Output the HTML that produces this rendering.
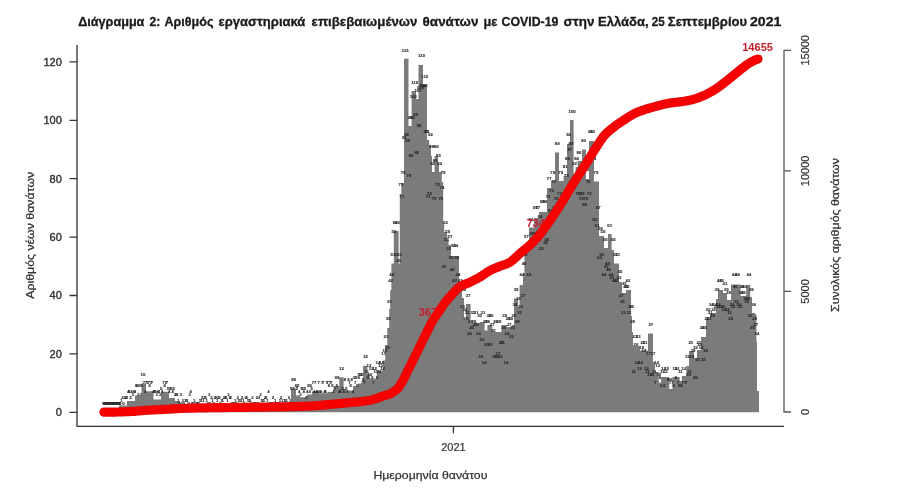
<!DOCTYPE html>
<html><head><meta charset="utf-8"><title>Διάγραμμα 2</title>
<style>
html,body{margin:0;padding:0;background:#fff;width:900px;height:500px;overflow:hidden}
svg{display:block;will-change:transform}
text{font-family:"Liberation Sans", "DejaVu Sans", sans-serif}
.ax text{stroke:#333;stroke-width:0.4px}
.ax2 text{stroke:#333;stroke-width:0.2px}
.ax3 text{stroke:#333;stroke-width:0.25px}
.tt text{stroke:#1a1a1a;stroke-width:0.3px}
</style></head><body>
<svg width="900" height="500" viewBox="0 0 900 500">
<rect width="900" height="500" fill="#ffffff"/>
<g class="tt" font-size="13" font-weight="bold" fill="#1a1a1a"><text x="78.19999999999999" y="26.3" textLength="66.2" lengthAdjust="spacingAndGlyphs">Διάγραμμα</text><text x="149.6" y="26.3" textLength="10.8" lengthAdjust="spacingAndGlyphs">2:</text><text x="164.6" y="26.3" textLength="48.8" lengthAdjust="spacingAndGlyphs">Αριθμός</text><text x="218.6" y="26.3" textLength="86.8" lengthAdjust="spacingAndGlyphs">εργαστηριακά</text><text x="311.6" y="26.3" textLength="105.8" lengthAdjust="spacingAndGlyphs">επιβεβαιωμένων</text><text x="422.6" y="26.3" textLength="55.8" lengthAdjust="spacingAndGlyphs">θανάτων</text><text x="483.6" y="26.3" textLength="13.8" lengthAdjust="spacingAndGlyphs">με</text><text x="501.6" y="26.3" textLength="56.8" lengthAdjust="spacingAndGlyphs">COVID-19</text><text x="563.6" y="26.3" textLength="30.8" lengthAdjust="spacingAndGlyphs">στην</text><text x="598.0" y="26.3" textLength="50.6" lengthAdjust="spacingAndGlyphs">Ελλάδα,</text><text x="651.8000000000001" y="26.3" textLength="13.0" lengthAdjust="spacingAndGlyphs">25</text><text x="667.8000000000001" y="26.3" textLength="79.3" lengthAdjust="spacingAndGlyphs">Σεπτεμβρίου</text><text x="750.0" y="26.3" textLength="31.5" lengthAdjust="spacingAndGlyphs">2021</text></g>
<!-- bars -->
<path d="M119,412.3L119,405.5L127,405.5L127,401L135,401L135,395.5L141.5,395.5L141.5,383.5L146,383.5L146,391.3L153.5,391.3L153.5,399.5L161,399.5L161,391.8L169,391.8L169,398L175,398L175,401L180,401L180,407.5L230,407.5L230,407.5L267,407.5L267,404L272,404L272,407L291,407L291,388.6L296,388.6L296,395.5L300,395.5L300,397.2L307,397.2L307,394.6L312,394.6L312,391.2L319,391.2L319,393.3L327.4,393.3L327.4,392L334,392L334,386L339.3,386L339.3,377.3L343.6,377.3L343.6,388.7L346,388.7L346,390.4L353,390.4L353,386L358,386L358,383.6L363.1,383.6L363.1,365.7L367.4,365.7L367.4,374L370,374L370,378.5L376.7,378.5L376.7,370.8L382.7,370.8L382.7,360.6L385.2,360.6L385.2,345L387.3,345L387.3,328L389.2,328L389.2,309L390.2,309L390.2,290L391.4,290L391.4,263.5L393.8,263.5L393.8,231L398.6,231L398.6,263.5L399.8,263.5L399.8,194L401.3,194L401.3,183L404,183L404,58.8L408.5,58.8L408.5,126L411.6,126L411.6,91L416,91L416,99L418.5,99L418.5,65L423,65L423,85L427,85L427,140L429.2,140L429.2,145L431,145L431,156L432,156L432,172L434.6,172L434.6,156L438,156L438,164L439,164L439,172L441.8,172L441.8,182L443.2,182L443.2,224L444.2,224L444.2,232L447,232L447,240L448.6,240L448.6,245L451,245L451,256L459,256L459,290L462,290L462,298L464,298L464,320L466,320L466,304L470.6,304L470.6,323L477.6,323L477.6,323.5L479.7,323.5L479.7,322L484.6,322L484.6,330.6L487.4,330.6L487.4,325L492.3,325L492.3,332L501.4,332L501.4,325L507,325L507,327L512,327L512,325L514,325L514,298.4L518.2,298.4L518.2,306.8L519.6,306.8L519.6,285L523,285L523,273L524.4,273L524.4,246L529,246L529,227.6L534,227.6L534,218L539,218L539,212L547,212L547,188L551,188L551,181L555,181L555,152.4L559,152.4L559,181L563.6,181L563.6,176L567,176L567,144L570,144L570,120L573.6,120L573.6,174L575.6,174L575.6,167L577.6,167L577.6,161L582,161L582,149.4L586,149.4L586,179L589,179L589,141L594,141L594,181.5L599,181.5L599,236L604,236L604,248L608,248L608,234L611.6,234L611.6,250L614,250L614,263.5L619,263.5L619,282L622,282L622,293L626,293L626,290L631,290L631,316L632,316L632,332L633,332L633,346L640,346L640,350.5L648,350.5L648,333.6L653,333.6L653,362L655,362L655,372L658.8,372L658.8,382.5L661,382.5L661,377L669.2,377L669.2,389L672.5,389L672.5,377L679.7,377L679.7,381L681.9,381L681.9,376L686.3,376L686.3,366L689,366L689,351L694,351L694,358L697,358L697,350L701,350L701,337L706,337L706,319L710,319L710,313L716,313L716,299L718,299L718,290L723,290L723,293L727,293L727,300L731,300L731,284.5L740.6,284.5L740.6,296L746.2,296L746.2,285L750.2,285L750.2,297L752,297L752,313L755,313L755,314L756.4,314L756.4,342L757,342L757,391L759,391L759,412.3Z" fill="#7b7b7b"/>
<rect x="102.3" y="402" width="18.4" height="2.8" fill="#585858"/>
<g font-size="4.3" font-weight="bold" fill="#2a2a2a" stroke="#2a2a2a" stroke-width="0.12" text-anchor="middle"><text x="104.1" y="404.8">0</text><text x="105.2" y="404.8">0</text><text x="106.4" y="404.8">0</text><text x="107.5" y="404.8">0</text><text x="108.7" y="404.8">0</text><text x="109.8" y="404.8">0</text><text x="110.9" y="404.8">0</text><text x="112.1" y="404.8">0</text><text x="113.2" y="404.8">0</text><text x="114.4" y="404.8">0</text><text x="115.5" y="404.8">0</text><text x="116.7" y="404.8">0</text><text x="117.8" y="404.8">0</text><text x="118.9" y="404.8">0</text><text x="120.1" y="404.8">0</text><text x="121.2" y="401.9">1</text><text x="122.4" y="399.0">2</text><text x="123.5" y="404.8">0</text><text x="124.6" y="399.0">2</text><text x="125.8" y="399.0">2</text><text x="126.9" y="399.0">2</text><text x="128.1" y="393.1">4</text><text x="129.2" y="393.1">4</text><text x="130.4" y="399.0">2</text><text x="131.5" y="393.1">4</text><text x="132.6" y="396.0">3</text><text x="133.8" y="393.1">4</text><text x="134.9" y="393.1">4</text><text x="136.1" y="387.3">6</text><text x="137.2" y="387.3">6</text><text x="138.3" y="396.0">3</text><text x="139.5" y="387.3">6</text><text x="140.6" y="396.0">3</text><text x="141.8" y="387.3">6</text><text x="142.9" y="375.6">10</text><text x="144.0" y="384.4">7</text><text x="145.2" y="393.1">4</text><text x="146.3" y="384.4">7</text><text x="147.5" y="384.4">7</text><text x="148.6" y="384.4">7</text><text x="149.8" y="387.3">6</text><text x="150.9" y="384.4">7</text><text x="152.0" y="384.4">7</text><text x="153.2" y="393.1">4</text><text x="154.3" y="393.1">4</text><text x="155.5" y="393.1">4</text><text x="156.6" y="396.0">3</text><text x="157.7" y="393.1">4</text><text x="158.9" y="393.1">4</text><text x="160.0" y="396.0">3</text><text x="161.2" y="390.2">5</text><text x="162.3" y="393.1">4</text><text x="163.5" y="384.4">7</text><text x="164.6" y="387.3">6</text><text x="165.7" y="384.4">7</text><text x="166.9" y="384.4">7</text><text x="168.0" y="390.2">5</text><text x="169.2" y="393.1">4</text><text x="170.3" y="390.2">5</text><text x="171.4" y="390.2">5</text><text x="172.6" y="393.1">4</text><text x="173.7" y="390.2">5</text><text x="174.9" y="396.0">3</text><text x="176.0" y="396.0">3</text><text x="177.1" y="396.0">3</text><text x="178.3" y="401.9">1</text><text x="179.4" y="404.8">0</text><text x="180.6" y="396.0">3</text><text x="181.7" y="404.8">0</text><text x="182.9" y="401.9">1</text><text x="184.0" y="404.8">0</text><text x="185.1" y="401.9">1</text><text x="186.3" y="401.9">1</text><text x="187.4" y="401.9">1</text><text x="188.6" y="404.8">0</text><text x="189.7" y="396.0">3</text><text x="190.8" y="393.1">4</text><text x="192.0" y="404.8">0</text><text x="193.1" y="404.8">0</text><text x="194.3" y="401.9">1</text><text x="195.4" y="404.8">0</text><text x="196.6" y="404.8">0</text><text x="197.7" y="404.8">0</text><text x="198.8" y="404.8">0</text><text x="200.0" y="401.9">1</text><text x="201.1" y="401.9">1</text><text x="202.3" y="399.0">2</text><text x="203.4" y="401.9">1</text><text x="204.5" y="399.0">2</text><text x="205.7" y="399.0">2</text><text x="206.8" y="401.9">1</text><text x="208.0" y="404.8">0</text><text x="209.1" y="396.0">3</text><text x="210.3" y="404.8">0</text><text x="211.4" y="399.0">2</text><text x="212.5" y="401.9">1</text><text x="213.7" y="404.8">0</text><text x="214.8" y="399.0">2</text><text x="216.0" y="399.0">2</text><text x="217.1" y="401.9">1</text><text x="218.2" y="399.0">2</text><text x="219.4" y="399.0">2</text><text x="220.5" y="404.8">0</text><text x="221.7" y="401.9">1</text><text x="222.8" y="401.9">1</text><text x="223.9" y="399.0">2</text><text x="225.1" y="399.0">2</text><text x="226.2" y="399.0">2</text><text x="227.4" y="401.9">1</text><text x="228.5" y="396.0">3</text><text x="229.7" y="399.0">2</text><text x="230.8" y="399.0">2</text><text x="231.9" y="404.8">0</text><text x="233.1" y="404.8">0</text><text x="234.2" y="404.8">0</text><text x="235.4" y="401.9">1</text><text x="236.5" y="404.8">0</text><text x="237.6" y="399.0">2</text><text x="238.8" y="401.9">1</text><text x="239.9" y="401.9">1</text><text x="241.1" y="401.9">1</text><text x="242.2" y="399.0">2</text><text x="243.4" y="401.9">1</text><text x="244.5" y="404.8">0</text><text x="245.6" y="399.0">2</text><text x="246.8" y="399.0">2</text><text x="247.9" y="401.9">1</text><text x="249.1" y="401.9">1</text><text x="250.2" y="401.9">1</text><text x="251.3" y="404.8">0</text><text x="252.5" y="399.0">2</text><text x="253.6" y="404.8">0</text><text x="254.8" y="404.8">0</text><text x="255.9" y="404.8">0</text><text x="257.0" y="399.0">2</text><text x="258.2" y="404.8">0</text><text x="259.3" y="399.0">2</text><text x="260.5" y="396.0">3</text><text x="261.6" y="401.9">1</text><text x="262.8" y="401.9">1</text><text x="263.9" y="401.9">1</text><text x="265.0" y="399.0">2</text><text x="266.2" y="399.0">2</text><text x="267.3" y="401.9">1</text><text x="268.5" y="393.1">4</text><text x="269.6" y="404.8">0</text><text x="270.7" y="404.8">0</text><text x="271.9" y="404.8">0</text><text x="273.0" y="399.0">2</text><text x="274.2" y="404.8">0</text><text x="275.3" y="401.9">1</text><text x="276.5" y="404.8">0</text><text x="277.6" y="404.8">0</text><text x="278.7" y="404.8">0</text><text x="279.9" y="401.9">1</text><text x="281.0" y="399.0">2</text><text x="282.2" y="401.9">1</text><text x="283.3" y="404.8">0</text><text x="284.4" y="401.9">1</text><text x="285.6" y="401.9">1</text><text x="286.7" y="401.9">1</text><text x="287.9" y="404.8">0</text><text x="289.0" y="399.0">2</text><text x="290.1" y="401.9">1</text><text x="291.3" y="390.2">5</text><text x="292.4" y="381.4">8</text><text x="293.6" y="390.2">5</text><text x="294.7" y="381.4">8</text><text x="295.9" y="387.3">6</text><text x="297.0" y="390.2">5</text><text x="298.1" y="387.3">6</text><text x="299.3" y="393.1">4</text><text x="300.4" y="396.0">3</text><text x="301.6" y="390.2">5</text><text x="302.7" y="390.2">5</text><text x="303.8" y="393.1">4</text><text x="305.0" y="390.2">5</text><text x="306.1" y="399.0">2</text><text x="307.3" y="393.1">4</text><text x="308.4" y="387.3">6</text><text x="309.6" y="393.1">4</text><text x="310.7" y="387.3">6</text><text x="311.8" y="390.2">5</text><text x="313.0" y="384.4">7</text><text x="314.1" y="393.1">4</text><text x="315.3" y="384.4">7</text><text x="316.4" y="393.1">4</text><text x="317.5" y="393.1">4</text><text x="318.7" y="384.4">7</text><text x="319.8" y="393.1">4</text><text x="321.0" y="393.1">4</text><text x="322.1" y="384.4">7</text><text x="323.2" y="384.4">7</text><text x="324.4" y="393.1">4</text><text x="325.5" y="393.1">4</text><text x="326.7" y="384.4">7</text><text x="327.8" y="384.4">7</text><text x="329.0" y="387.3">6</text><text x="330.1" y="384.4">7</text><text x="331.2" y="384.4">7</text><text x="332.4" y="387.3">6</text><text x="333.5" y="393.1">4</text><text x="334.7" y="390.2">5</text><text x="335.8" y="378.5">9</text><text x="336.9" y="387.3">6</text><text x="338.1" y="378.5">9</text><text x="339.2" y="393.1">4</text><text x="340.4" y="393.1">4</text><text x="341.5" y="369.8">12</text><text x="342.7" y="390.2">5</text><text x="343.8" y="393.1">4</text><text x="344.9" y="381.4">8</text><text x="346.1" y="390.2">5</text><text x="347.2" y="393.1">4</text><text x="348.4" y="381.4">8</text><text x="349.5" y="384.4">7</text><text x="350.6" y="387.3">6</text><text x="351.8" y="381.4">8</text><text x="352.9" y="393.1">4</text><text x="354.1" y="378.5">9</text><text x="355.2" y="384.4">7</text><text x="356.3" y="378.5">9</text><text x="357.5" y="387.3">6</text><text x="358.6" y="378.5">9</text><text x="359.8" y="375.6">10</text><text x="360.9" y="375.6">10</text><text x="362.1" y="384.4">7</text><text x="363.2" y="381.4">8</text><text x="364.3" y="384.4">7</text><text x="365.5" y="358.1">16</text><text x="366.6" y="372.7">11</text><text x="367.8" y="378.5">9</text><text x="368.9" y="366.8">13</text><text x="370.0" y="375.6">10</text><text x="371.2" y="369.8">12</text><text x="372.3" y="378.5">9</text><text x="373.5" y="384.4">7</text><text x="374.6" y="369.8">12</text><text x="375.8" y="372.7">11</text><text x="376.9" y="378.5">9</text><text x="378.0" y="363.9">14</text><text x="379.2" y="372.7">11</text><text x="380.3" y="366.8">13</text><text x="381.5" y="363.9">14</text><text x="382.6" y="369.8">12</text><text x="383.7" y="355.2">17</text><text x="384.9" y="352.2">18</text><text x="386.0" y="337.6">23</text><text x="387.2" y="349.3">19</text><text x="388.3" y="320.1">29</text><text x="389.4" y="302.6">35</text><text x="390.6" y="282.2">42</text><text x="391.7" y="276.3">44</text><text x="392.9" y="255.9">51</text><text x="394.0" y="232.5">59</text><text x="395.2" y="223.8">62</text><text x="396.3" y="255.9">51</text><text x="397.4" y="223.8">62</text><text x="398.6" y="261.7">49</text><text x="399.7" y="255.9">51</text><text x="400.9" y="185.8">75</text><text x="402.0" y="197.5">71</text><text x="403.1" y="174.1">79</text><text x="404.3" y="139.1">91</text><text x="405.4" y="51.5">121</text><text x="406.6" y="136.2">92</text><text x="407.7" y="142.0">90</text><text x="408.9" y="177.0">78</text><text x="410.0" y="118.6">98</text><text x="411.1" y="156.6">85</text><text x="412.3" y="118.6">98</text><text x="413.4" y="98.2">105</text><text x="414.6" y="83.6">110</text><text x="415.7" y="115.7">99</text><text x="416.8" y="153.7">86</text><text x="418.0" y="92.4">107</text><text x="419.1" y="127.4">95</text><text x="420.3" y="89.4">108</text><text x="421.4" y="57.3">119</text><text x="422.6" y="86.5">109</text><text x="423.7" y="86.5">109</text><text x="424.8" y="77.8">112</text><text x="426.0" y="133.2">93</text><text x="427.1" y="133.2">93</text><text x="428.3" y="197.5">71</text><text x="429.4" y="194.6">72</text><text x="430.5" y="136.2">92</text><text x="431.7" y="147.8">88</text><text x="432.8" y="165.4">82</text><text x="434.0" y="200.4">70</text><text x="435.1" y="162.4">83</text><text x="436.2" y="147.8">88</text><text x="437.4" y="185.8">75</text><text x="438.5" y="156.6">85</text><text x="439.7" y="165.4">82</text><text x="440.8" y="200.4">70</text><text x="442.0" y="188.7">74</text><text x="443.1" y="174.1">79</text><text x="444.2" y="267.6">47</text><text x="445.4" y="223.8">62</text><text x="446.5" y="241.3">56</text><text x="447.7" y="232.5">59</text><text x="448.8" y="250.0">53</text><text x="449.9" y="238.4">57</text><text x="451.1" y="258.8">50</text><text x="452.2" y="270.5">46</text><text x="453.4" y="247.1">54</text><text x="454.5" y="282.2">42</text><text x="455.7" y="247.1">54</text><text x="456.8" y="258.8">50</text><text x="457.9" y="276.3">44</text><text x="459.1" y="290.9">39</text><text x="460.2" y="282.2">42</text><text x="461.4" y="285.1">41</text><text x="462.5" y="308.4">33</text><text x="463.6" y="290.9">39</text><text x="464.8" y="311.4">32</text><text x="465.9" y="320.1">29</text><text x="467.1" y="314.3">31</text><text x="468.2" y="296.8">37</text><text x="469.3" y="334.7">24</text><text x="470.5" y="323.0">28</text><text x="471.6" y="328.9">26</text><text x="472.8" y="314.3">31</text><text x="473.9" y="323.0">28</text><text x="475.1" y="326.0">27</text><text x="476.2" y="314.3">31</text><text x="477.3" y="326.0">27</text><text x="478.5" y="334.7">24</text><text x="479.6" y="317.2">30</text><text x="480.8" y="358.1">16</text><text x="481.9" y="340.6">22</text><text x="483.0" y="314.3">31</text><text x="484.2" y="363.9">14</text><text x="485.3" y="323.0">28</text><text x="486.5" y="346.4">20</text><text x="487.6" y="323.0">28</text><text x="488.8" y="317.2">30</text><text x="489.9" y="346.4">20</text><text x="491.0" y="317.2">30</text><text x="492.2" y="326.0">27</text><text x="493.3" y="331.8">25</text><text x="494.5" y="358.1">16</text><text x="495.6" y="323.0">28</text><text x="496.7" y="358.1">16</text><text x="497.9" y="355.2">17</text><text x="499.0" y="323.0">28</text><text x="500.2" y="358.1">16</text><text x="501.3" y="343.5">21</text><text x="502.4" y="343.5">21</text><text x="503.6" y="328.9">26</text><text x="504.7" y="317.2">30</text><text x="505.9" y="363.9">14</text><text x="507.0" y="334.7">24</text><text x="508.2" y="320.1">29</text><text x="509.3" y="326.0">27</text><text x="510.4" y="320.1">29</text><text x="511.6" y="337.6">23</text><text x="512.7" y="328.9">26</text><text x="513.9" y="317.2">30</text><text x="515.0" y="305.5">34</text><text x="516.1" y="290.9">39</text><text x="517.3" y="323.0">28</text><text x="518.4" y="299.7">36</text><text x="519.6" y="314.3">31</text><text x="520.7" y="308.4">33</text><text x="521.9" y="276.3">44</text><text x="523.0" y="296.8">37</text><text x="524.1" y="264.6">48</text><text x="525.3" y="255.9">51</text><text x="526.4" y="238.4">57</text><text x="527.6" y="250.0">53</text><text x="528.7" y="276.3">44</text><text x="529.8" y="247.1">54</text><text x="531.0" y="220.8">63</text><text x="532.1" y="235.4">58</text><text x="533.3" y="244.2">55</text><text x="534.4" y="244.2">55</text><text x="535.5" y="209.2">67</text><text x="536.7" y="235.4">58</text><text x="537.8" y="209.2">67</text><text x="539.0" y="232.5">59</text><text x="540.1" y="217.9">64</text><text x="541.3" y="250.0">53</text><text x="542.4" y="203.3">69</text><text x="543.5" y="229.6">60</text><text x="544.7" y="203.3">69</text><text x="545.8" y="244.2">55</text><text x="547.0" y="241.3">56</text><text x="548.1" y="197.5">71</text><text x="549.2" y="180.0">77</text><text x="550.4" y="212.1">66</text><text x="551.5" y="191.6">73</text><text x="552.7" y="174.1">79</text><text x="553.8" y="182.9">76</text><text x="555.0" y="209.2">67</text><text x="556.1" y="200.4">70</text><text x="557.2" y="144.9">89</text><text x="558.4" y="206.2">68</text><text x="559.5" y="194.6">72</text><text x="560.7" y="174.1">79</text><text x="561.8" y="209.2">67</text><text x="562.9" y="203.3">69</text><text x="564.1" y="203.3">69</text><text x="565.2" y="168.3">81</text><text x="566.4" y="177.0">78</text><text x="567.5" y="159.5">84</text><text x="568.6" y="136.2">92</text><text x="569.8" y="150.8">87</text><text x="570.9" y="144.9">89</text><text x="572.1" y="112.8">100</text><text x="573.2" y="188.7">74</text><text x="574.4" y="165.4">82</text><text x="575.5" y="180.0">77</text><text x="576.6" y="159.5">84</text><text x="577.8" y="194.6">72</text><text x="578.9" y="153.7">86</text><text x="580.1" y="194.6">72</text><text x="581.2" y="200.4">70</text><text x="582.3" y="194.6">72</text><text x="583.5" y="142.0">90</text><text x="584.6" y="206.2">68</text><text x="585.8" y="200.4">70</text><text x="586.9" y="171.2">80</text><text x="588.1" y="182.9">76</text><text x="589.2" y="194.6">72</text><text x="590.3" y="133.2">93</text><text x="591.5" y="156.6">85</text><text x="592.6" y="133.2">93</text><text x="593.8" y="159.5">84</text><text x="594.9" y="220.8">63</text><text x="596.0" y="174.1">79</text><text x="597.2" y="226.7">61</text><text x="598.3" y="209.2">67</text><text x="599.5" y="258.8">50</text><text x="600.6" y="229.6">60</text><text x="601.8" y="255.9">51</text><text x="602.9" y="232.5">59</text><text x="604.0" y="276.3">44</text><text x="605.2" y="241.3">56</text><text x="606.3" y="267.6">47</text><text x="607.5" y="264.6">48</text><text x="608.6" y="270.5">46</text><text x="609.7" y="226.7">61</text><text x="610.9" y="276.3">44</text><text x="612.0" y="279.2">43</text><text x="613.2" y="241.3">56</text><text x="614.3" y="282.2">42</text><text x="615.4" y="255.9">51</text><text x="616.6" y="282.2">42</text><text x="617.7" y="255.9">51</text><text x="618.9" y="279.2">43</text><text x="620.0" y="273.4">45</text><text x="621.2" y="296.8">37</text><text x="622.3" y="302.6">35</text><text x="623.4" y="314.3">31</text><text x="624.6" y="285.1">41</text><text x="625.7" y="288.0">40</text><text x="626.9" y="288.0">40</text><text x="628.0" y="282.2">42</text><text x="629.1" y="314.3">31</text><text x="630.3" y="308.4">33</text><text x="631.4" y="308.4">33</text><text x="632.6" y="323.0">28</text><text x="633.7" y="372.7">11</text><text x="634.9" y="337.6">23</text><text x="636.0" y="346.4">20</text><text x="637.1" y="363.9">14</text><text x="638.3" y="337.6">23</text><text x="639.4" y="369.8">12</text><text x="640.6" y="363.9">14</text><text x="641.7" y="349.3">19</text><text x="642.8" y="343.5">21</text><text x="644.0" y="352.2">18</text><text x="645.1" y="343.5">21</text><text x="646.3" y="369.8">12</text><text x="647.4" y="372.7">11</text><text x="648.5" y="355.2">17</text><text x="649.7" y="375.6">10</text><text x="650.8" y="326.0">27</text><text x="652.0" y="375.6">10</text><text x="653.1" y="355.2">17</text><text x="654.3" y="372.7">11</text><text x="655.4" y="384.4">7</text><text x="656.5" y="363.9">14</text><text x="657.7" y="366.8">13</text><text x="658.8" y="375.6">10</text><text x="660.0" y="378.5">9</text><text x="661.1" y="387.3">6</text><text x="662.2" y="372.7">11</text><text x="663.4" y="369.8">12</text><text x="664.5" y="387.3">6</text><text x="665.7" y="372.7">11</text><text x="666.8" y="369.8">12</text><text x="668.0" y="381.4">8</text><text x="669.1" y="381.4">8</text><text x="670.2" y="384.4">7</text><text x="671.4" y="381.4">8</text><text x="672.5" y="384.4">7</text><text x="673.7" y="387.3">6</text><text x="674.8" y="369.8">12</text><text x="675.9" y="378.5">9</text><text x="677.1" y="369.8">12</text><text x="678.2" y="384.4">7</text><text x="679.4" y="387.3">6</text><text x="680.5" y="372.7">11</text><text x="681.6" y="387.3">6</text><text x="682.8" y="384.4">7</text><text x="683.9" y="369.8">12</text><text x="685.1" y="384.4">7</text><text x="686.2" y="384.4">7</text><text x="687.4" y="358.1">16</text><text x="688.5" y="375.6">10</text><text x="689.6" y="372.7">11</text><text x="690.8" y="343.5">21</text><text x="691.9" y="358.1">16</text><text x="693.1" y="352.2">18</text><text x="694.2" y="378.5">9</text><text x="695.3" y="349.3">19</text><text x="696.5" y="378.5">9</text><text x="697.6" y="361.0">15</text><text x="698.8" y="343.5">21</text><text x="699.9" y="346.4">20</text><text x="701.1" y="349.3">19</text><text x="702.2" y="328.9">26</text><text x="703.3" y="361.0">15</text><text x="704.5" y="328.9">26</text><text x="705.6" y="352.2">18</text><text x="706.8" y="320.1">29</text><text x="707.9" y="311.4">32</text><text x="709.0" y="320.1">29</text><text x="710.2" y="314.3">31</text><text x="711.3" y="305.5">34</text><text x="712.5" y="317.2">30</text><text x="713.6" y="311.4">32</text><text x="714.7" y="305.5">34</text><text x="715.9" y="308.4">33</text><text x="717.0" y="290.9">39</text><text x="718.2" y="305.5">34</text><text x="719.3" y="282.2">42</text><text x="720.5" y="308.4">33</text><text x="721.6" y="282.2">42</text><text x="722.7" y="308.4">33</text><text x="723.9" y="311.4">32</text><text x="725.0" y="285.1">41</text><text x="726.2" y="290.9">39</text><text x="727.3" y="311.4">32</text><text x="728.4" y="293.8">38</text><text x="729.6" y="314.3">31</text><text x="730.7" y="320.1">29</text><text x="731.9" y="305.5">34</text><text x="733.0" y="308.4">33</text><text x="734.2" y="276.3">44</text><text x="735.3" y="288.0">40</text><text x="736.4" y="302.6">35</text><text x="737.6" y="276.3">44</text><text x="738.7" y="305.5">34</text><text x="739.9" y="308.4">33</text><text x="741.0" y="293.8">38</text><text x="742.1" y="288.0">40</text><text x="743.3" y="293.8">38</text><text x="744.4" y="288.0">40</text><text x="745.6" y="299.7">36</text><text x="746.7" y="302.6">35</text><text x="747.8" y="299.7">36</text><text x="749.0" y="276.3">44</text><text x="750.1" y="317.2">30</text><text x="751.3" y="290.9">39</text><text x="752.4" y="328.9">26</text><text x="753.6" y="305.5">34</text><text x="754.7" y="320.1">29</text><text x="755.8" y="326.0">27</text><text x="757.0" y="334.7">24</text></g>
<!-- left axis -->
<g stroke="#333" stroke-width="1.3" fill="none">
<path d="M77,44.9V426.4H784"/>
<path d="M69.5,61.9H77M69.5,120.3H77M69.5,178.7H77M69.5,237.1H77M69.5,295.5H77M69.5,353.9H77M69.5,412.3H77"/>
<path d="M453.4,426.4V433.3"/>
</g>
<g stroke="#555" stroke-width="1.3" fill="none">
<path d="M791,50.3H784V412H791"/>
<path d="M784,170.9H791M784,291.4H791"/>
</g>
<g class="ax" font-size="11" fill="#333" text-anchor="end">
<text x="61.8" y="65.8">120</text>
<text x="61.8" y="124.2">100</text>
<text x="61.8" y="182.6">80</text>
<text x="61.8" y="241.0">60</text>
<text x="61.8" y="299.4">40</text>
<text x="61.8" y="357.8">20</text>
<text x="61.8" y="416.2">0</text>
</g>
<g class="ax2" font-size="11" fill="#333" text-anchor="middle">
<text transform="translate(808.7,50.3) rotate(-90)">15000</text>
<text transform="translate(808.7,170.9) rotate(-90)">10000</text>
<text transform="translate(808.7,291.4) rotate(-90)">5000</text>
<text transform="translate(808.7,412) rotate(-90)">0</text>
<text x="453.4" y="451.3">2021</text>
</g>
<g class="ax3" font-size="11.5" fill="#333" text-anchor="middle">
<text x="430.4" y="479.2" textLength="114" lengthAdjust="spacingAndGlyphs">Ημερομηνία θανάτου</text>
<text transform="translate(34,235.3) rotate(-90)" textLength="127" lengthAdjust="spacingAndGlyphs">Αριθμός νέων θανάτων</text>
<text transform="translate(838.5,235) rotate(-90)" textLength="154" lengthAdjust="spacingAndGlyphs">Συνολικός αριθμός θανάτων</text>
</g>
<!-- red labels -->
<g font-size="11" font-weight="bold" fill="#c81e2a">
<text x="418.7" y="315.7">3677</text>
<text x="526.5" y="227">7340</text>
<text x="742.2" y="51.3" textLength="30.8" lengthAdjust="spacingAndGlyphs">14655</text>
</g>
<path d="M103.90,412.20L105.41,412.18L107.49,412.17L109.95,412.14L112.64,412.11L115.38,412.06L118.00,412.00L120.61,411.91L123.38,411.81L126.19,411.69L128.97,411.57L131.60,411.43L134.00,411.30L136.08,411.16L137.89,411.01L139.56,410.86L141.22,410.70L142.99,410.55L145.00,410.40L147.21,410.26L149.52,410.14L151.94,410.01L154.48,409.89L157.16,409.75L160.00,409.60L163.04,409.43L166.30,409.24L169.69,409.04L173.15,408.84L176.61,408.66L180.00,408.50L183.33,408.37L186.67,408.25L190.00,408.15L193.33,408.06L196.67,407.98L200.00,407.90L203.28,407.83L206.48,407.78L209.69,407.73L212.96,407.69L216.38,407.65L220.00,407.60L223.88,407.55L227.96,407.50L232.19,407.45L236.48,407.40L240.78,407.35L245.00,407.30L249.22,407.25L253.52,407.20L257.81,407.15L262.04,407.10L266.12,407.05L270.00,407.00L273.62,406.95L277.04,406.91L280.31,406.88L283.52,406.83L286.72,406.77L290.00,406.70L293.43,406.61L296.96,406.50L300.50,406.38L303.93,406.26L307.13,406.13L310.00,406.00L312.51,405.87L314.74,405.74L316.75,405.61L318.59,405.47L320.32,405.33L322.00,405.20L323.54,405.07L324.89,404.94L326.12,404.81L327.33,404.67L328.60,404.54L330.00,404.40L331.55,404.26L333.19,404.11L334.88,403.96L336.59,403.80L338.31,403.65L340.00,403.50L341.67,403.35L343.33,403.20L345.00,403.05L346.67,402.90L348.33,402.75L350.00,402.60L351.67,402.46L353.33,402.32L355.00,402.19L356.67,402.04L358.33,401.88L360.00,401.70L361.71,401.49L363.48,401.25L365.25,400.99L366.96,400.73L368.56,400.46L370.00,400.20L371.25,399.94L372.37,399.67L373.38,399.40L374.30,399.13L375.16,398.86L376.00,398.60L376.77,398.35L377.44,398.10L378.06,397.86L378.67,397.61L379.30,397.36L380.00,397.10L380.78,396.82L381.59,396.54L382.44,396.24L383.30,395.95L384.16,395.67L385.00,395.40L385.84,395.16L386.70,394.96L387.56,394.76L388.41,394.54L389.22,394.30L390.00,394.00L390.72,393.65L391.41,393.25L392.06,392.82L392.70,392.37L393.34,391.89L394.00,391.40L394.66,390.93L395.30,390.48L395.94,390.01L396.59,389.47L397.28,388.81L398.00,388.00L398.78,387.02L399.60,385.90L400.44,384.66L401.30,383.34L402.16,381.94L403.00,380.50L403.81,379.00L404.60,377.43L405.38,375.79L406.18,374.09L407.02,372.32L407.90,370.50L408.84,368.60L409.84,366.62L410.86,364.58L411.91,362.49L412.96,360.39L414.00,358.30L415.04,356.20L416.09,354.07L417.14,351.92L418.20,349.77L419.25,347.62L420.30,345.50L421.34,343.40L422.37,341.31L423.40,339.23L424.43,337.16L425.46,335.08L426.50,333.00L427.54,330.89L428.57,328.74L429.61,326.59L430.66,324.47L431.72,322.43L432.80,320.50L433.92,318.68L435.08,316.94L436.25,315.27L437.41,313.67L438.54,312.12L439.60,310.60L440.58,309.14L441.48,307.76L442.34,306.43L443.21,305.13L444.12,303.82L445.10,302.50L446.16,301.16L447.26,299.82L448.39,298.49L449.57,297.16L450.77,295.83L452.00,294.50L453.25,293.14L454.51,291.73L455.81,290.32L457.14,288.97L458.54,287.71L460.00,286.60L461.55,285.67L463.19,284.90L464.88,284.23L466.59,283.60L468.31,282.94L470.00,282.20L471.67,281.39L473.33,280.57L475.00,279.73L476.67,278.86L478.33,277.95L480.00,277.00L481.67,275.97L483.33,274.85L485.00,273.69L486.67,272.55L488.33,271.47L490.00,270.50L491.67,269.65L493.33,268.89L495.00,268.19L496.67,267.53L498.33,266.87L500.00,266.20L501.67,265.57L503.33,265.02L505.00,264.48L506.67,263.87L508.33,263.14L510.00,262.20L511.67,261.02L513.33,259.64L515.00,258.13L516.67,256.56L518.33,254.99L520.00,253.50L521.69,252.07L523.41,250.64L525.12,249.22L526.81,247.81L528.45,246.40L530.00,245.00L531.47,243.60L532.89,242.20L534.25,240.80L535.56,239.41L536.81,238.05L538.00,236.70L539.12,235.39L540.15,234.12L541.12,232.86L542.07,231.60L543.02,230.32L544.00,229.00L544.99,227.64L545.98,226.27L546.97,224.87L547.96,223.45L548.97,222.00L550.00,220.50L551.05,218.96L552.13,217.38L553.21,215.76L554.31,214.12L555.41,212.47L556.50,210.80L557.56,209.18L558.59,207.62L559.61,206.04L560.68,204.38L561.83,202.55L563.10,200.50L564.53,198.12L566.11,195.45L567.77,192.62L569.44,189.76L571.08,187.01L572.60,184.50L574.01,182.24L575.37,180.14L576.68,178.14L577.96,176.20L579.23,174.27L580.50,172.30L581.75,170.35L582.96,168.46L584.16,166.58L585.37,164.66L586.64,162.65L588.00,160.50L589.48,158.14L591.06,155.58L592.69,152.93L594.33,150.30L595.92,147.79L597.40,145.50L598.74,143.44L599.98,141.54L601.16,139.75L602.36,138.05L603.62,136.41L605.00,134.80L606.53,133.23L608.16,131.71L609.85,130.26L611.58,128.86L613.31,127.51L615.00,126.20L616.67,124.94L618.33,123.74L620.00,122.59L621.67,121.47L623.33,120.38L625.00,119.30L626.67,118.22L628.33,117.15L630.00,116.11L631.67,115.10L633.33,114.16L635.00,113.30L636.67,112.53L638.33,111.84L640.00,111.21L641.67,110.62L643.33,110.06L645.00,109.50L646.63,108.97L648.22,108.48L649.81,108.01L651.44,107.56L653.16,107.09L655.00,106.60L657.05,106.06L659.30,105.48L661.62,104.89L663.93,104.32L666.09,103.82L668.00,103.40L669.62,103.09L671.04,102.87L672.31,102.71L673.52,102.58L674.72,102.45L676.00,102.30L677.33,102.13L678.67,101.98L680.00,101.83L681.33,101.67L682.67,101.50L684.00,101.30L685.33,101.08L686.67,100.85L688.00,100.60L689.33,100.33L690.67,100.03L692.00,99.70L693.33,99.34L694.67,98.94L696.00,98.53L697.33,98.08L698.67,97.60L700.00,97.10L701.33,96.57L702.67,96.01L704.00,95.43L705.33,94.82L706.67,94.18L708.00,93.50L709.33,92.79L710.67,92.06L712.00,91.29L713.33,90.49L714.67,89.66L716.00,88.80L717.33,87.90L718.67,86.97L720.00,86.01L721.33,85.02L722.67,84.01L724.00,83.00L725.33,81.97L726.67,80.92L728.00,79.85L729.33,78.77L730.67,77.69L732.00,76.60L733.33,75.50L734.67,74.39L736.00,73.27L737.33,72.16L738.67,71.07L740.00,70.00L741.36,68.94L742.74,67.86L744.12,66.81L745.48,65.79L746.78,64.85L748.00,64.00L749.14,63.25L750.22,62.57L751.25,61.97L752.22,61.43L753.14,60.94L754.00,60.50L754.83,60.12L755.63,59.80L756.38,59.53L757.04,59.31L757.59,59.14L758.00,59.00" fill="none" stroke="#e00a0a" stroke-width="9.2" stroke-linecap="round" stroke-linejoin="round"/>
<path d="M103.90,412.20L105.41,412.18L107.49,412.17L109.95,412.14L112.64,412.11L115.38,412.06L118.00,412.00L120.61,411.91L123.38,411.81L126.19,411.69L128.97,411.57L131.60,411.43L134.00,411.30L136.08,411.16L137.89,411.01L139.56,410.86L141.22,410.70L142.99,410.55L145.00,410.40L147.21,410.26L149.52,410.14L151.94,410.01L154.48,409.89L157.16,409.75L160.00,409.60L163.04,409.43L166.30,409.24L169.69,409.04L173.15,408.84L176.61,408.66L180.00,408.50L183.33,408.37L186.67,408.25L190.00,408.15L193.33,408.06L196.67,407.98L200.00,407.90L203.28,407.83L206.48,407.78L209.69,407.73L212.96,407.69L216.38,407.65L220.00,407.60L223.88,407.55L227.96,407.50L232.19,407.45L236.48,407.40L240.78,407.35L245.00,407.30L249.22,407.25L253.52,407.20L257.81,407.15L262.04,407.10L266.12,407.05L270.00,407.00L273.62,406.95L277.04,406.91L280.31,406.88L283.52,406.83L286.72,406.77L290.00,406.70L293.43,406.61L296.96,406.50L300.50,406.38L303.93,406.26L307.13,406.13L310.00,406.00L312.51,405.87L314.74,405.74L316.75,405.61L318.59,405.47L320.32,405.33L322.00,405.20L323.54,405.07L324.89,404.94L326.12,404.81L327.33,404.67L328.60,404.54L330.00,404.40L331.55,404.26L333.19,404.11L334.88,403.96L336.59,403.80L338.31,403.65L340.00,403.50L341.67,403.35L343.33,403.20L345.00,403.05L346.67,402.90L348.33,402.75L350.00,402.60L351.67,402.46L353.33,402.32L355.00,402.19L356.67,402.04L358.33,401.88L360.00,401.70L361.71,401.49L363.48,401.25L365.25,400.99L366.96,400.73L368.56,400.46L370.00,400.20L371.25,399.94L372.37,399.67L373.38,399.40L374.30,399.13L375.16,398.86L376.00,398.60L376.77,398.35L377.44,398.10L378.06,397.86L378.67,397.61L379.30,397.36L380.00,397.10L380.78,396.82L381.59,396.54L382.44,396.24L383.30,395.95L384.16,395.67L385.00,395.40L385.84,395.16L386.70,394.96L387.56,394.76L388.41,394.54L389.22,394.30L390.00,394.00L390.72,393.65L391.41,393.25L392.06,392.82L392.70,392.37L393.34,391.89L394.00,391.40L394.66,390.93L395.30,390.48L395.94,390.01L396.59,389.47L397.28,388.81L398.00,388.00L398.78,387.02L399.60,385.90L400.44,384.66L401.30,383.34L402.16,381.94L403.00,380.50L403.81,379.00L404.60,377.43L405.38,375.79L406.18,374.09L407.02,372.32L407.90,370.50L408.84,368.60L409.84,366.62L410.86,364.58L411.91,362.49L412.96,360.39L414.00,358.30L415.04,356.20L416.09,354.07L417.14,351.92L418.20,349.77L419.25,347.62L420.30,345.50L421.34,343.40L422.37,341.31L423.40,339.23L424.43,337.16L425.46,335.08L426.50,333.00L427.54,330.89L428.57,328.74L429.61,326.59L430.66,324.47L431.72,322.43L432.80,320.50L433.92,318.68L435.08,316.94L436.25,315.27L437.41,313.67L438.54,312.12L439.60,310.60L440.58,309.14L441.48,307.76L442.34,306.43L443.21,305.13L444.12,303.82L445.10,302.50L446.16,301.16L447.26,299.82L448.39,298.49L449.57,297.16L450.77,295.83L452.00,294.50L453.25,293.14L454.51,291.73L455.81,290.32L457.14,288.97L458.54,287.71L460.00,286.60L461.55,285.67L463.19,284.90L464.88,284.23L466.59,283.60L468.31,282.94L470.00,282.20L471.67,281.39L473.33,280.57L475.00,279.73L476.67,278.86L478.33,277.95L480.00,277.00L481.67,275.97L483.33,274.85L485.00,273.69L486.67,272.55L488.33,271.47L490.00,270.50L491.67,269.65L493.33,268.89L495.00,268.19L496.67,267.53L498.33,266.87L500.00,266.20L501.67,265.57L503.33,265.02L505.00,264.48L506.67,263.87L508.33,263.14L510.00,262.20L511.67,261.02L513.33,259.64L515.00,258.13L516.67,256.56L518.33,254.99L520.00,253.50L521.69,252.07L523.41,250.64L525.12,249.22L526.81,247.81L528.45,246.40L530.00,245.00L531.47,243.60L532.89,242.20L534.25,240.80L535.56,239.41L536.81,238.05L538.00,236.70L539.12,235.39L540.15,234.12L541.12,232.86L542.07,231.60L543.02,230.32L544.00,229.00L544.99,227.64L545.98,226.27L546.97,224.87L547.96,223.45L548.97,222.00L550.00,220.50L551.05,218.96L552.13,217.38L553.21,215.76L554.31,214.12L555.41,212.47L556.50,210.80L557.56,209.18L558.59,207.62L559.61,206.04L560.68,204.38L561.83,202.55L563.10,200.50L564.53,198.12L566.11,195.45L567.77,192.62L569.44,189.76L571.08,187.01L572.60,184.50L574.01,182.24L575.37,180.14L576.68,178.14L577.96,176.20L579.23,174.27L580.50,172.30L581.75,170.35L582.96,168.46L584.16,166.58L585.37,164.66L586.64,162.65L588.00,160.50L589.48,158.14L591.06,155.58L592.69,152.93L594.33,150.30L595.92,147.79L597.40,145.50L598.74,143.44L599.98,141.54L601.16,139.75L602.36,138.05L603.62,136.41L605.00,134.80L606.53,133.23L608.16,131.71L609.85,130.26L611.58,128.86L613.31,127.51L615.00,126.20L616.67,124.94L618.33,123.74L620.00,122.59L621.67,121.47L623.33,120.38L625.00,119.30L626.67,118.22L628.33,117.15L630.00,116.11L631.67,115.10L633.33,114.16L635.00,113.30L636.67,112.53L638.33,111.84L640.00,111.21L641.67,110.62L643.33,110.06L645.00,109.50L646.63,108.97L648.22,108.48L649.81,108.01L651.44,107.56L653.16,107.09L655.00,106.60L657.05,106.06L659.30,105.48L661.62,104.89L663.93,104.32L666.09,103.82L668.00,103.40L669.62,103.09L671.04,102.87L672.31,102.71L673.52,102.58L674.72,102.45L676.00,102.30L677.33,102.13L678.67,101.98L680.00,101.83L681.33,101.67L682.67,101.50L684.00,101.30L685.33,101.08L686.67,100.85L688.00,100.60L689.33,100.33L690.67,100.03L692.00,99.70L693.33,99.34L694.67,98.94L696.00,98.53L697.33,98.08L698.67,97.60L700.00,97.10L701.33,96.57L702.67,96.01L704.00,95.43L705.33,94.82L706.67,94.18L708.00,93.50L709.33,92.79L710.67,92.06L712.00,91.29L713.33,90.49L714.67,89.66L716.00,88.80L717.33,87.90L718.67,86.97L720.00,86.01L721.33,85.02L722.67,84.01L724.00,83.00L725.33,81.97L726.67,80.92L728.00,79.85L729.33,78.77L730.67,77.69L732.00,76.60L733.33,75.50L734.67,74.39L736.00,73.27L737.33,72.16L738.67,71.07L740.00,70.00L741.36,68.94L742.74,67.86L744.12,66.81L745.48,65.79L746.78,64.85L748.00,64.00L749.14,63.25L750.22,62.57L751.25,61.97L752.22,61.43L753.14,60.94L754.00,60.50L754.83,60.12L755.63,59.80L756.38,59.53L757.04,59.31L757.59,59.14L758.00,59.00" fill="none" stroke="#f70000" stroke-width="7.8" stroke-linecap="round" stroke-linejoin="round"/>
</svg>
</body></html>
